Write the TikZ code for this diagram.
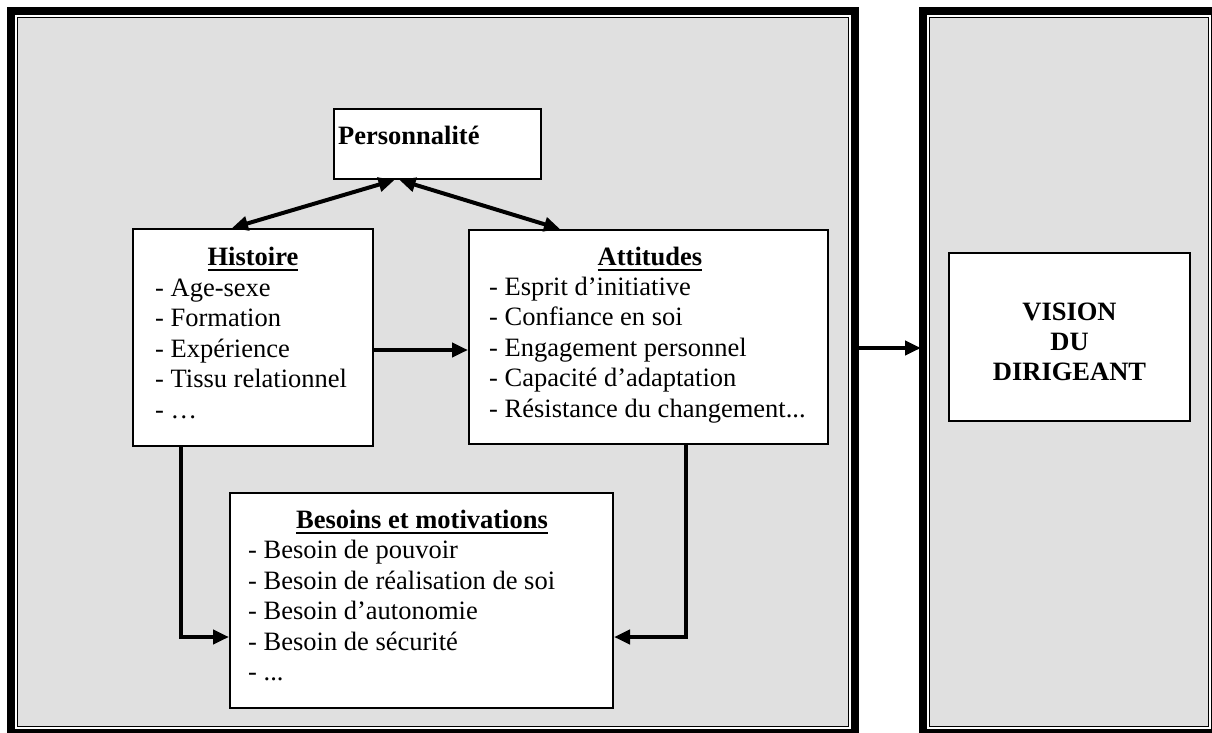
\documentclass[tikz,border=0pt]{standalone}
\usepackage{fontspec}
\setmainfont{Liberation Serif}
\usetikzlibrary{arrows.meta}
\definecolor{granit}{gray}{0.88}
\newcommand{\entete}[1]{\setbox0\hbox{\bfseries #1}\rlap{\rule[-6pt]{\wd0}{2pt}}\box0}

\begin{document}
\begin{tikzpicture}[x=1pt,y=-1pt]
\tikzset{
	cadre/.style={draw=black, fill=white, line width=8pt, inner sep=0pt, outer sep=0pt},
	filet/.style={draw=black, fill=granit, line width=1.5pt},
	bloc/.style={draw=black, fill=white, line width=2pt, inner sep=0pt},
	texte/.style={inner sep=0pt, anchor=base west, font=\fontsize{26.5}{30}\selectfont},
	titre/.style={inner sep=0pt, anchor=base, font=\fontsize{26.5}{30}\selectfont\bfseries},
	fleche/.style={line width=4pt, -{Triangle[length=16pt,width=14pt]}},
	doublefleche/.style={line width=4pt, {Triangle[length=16pt,width=14pt]}-{Triangle[length=16pt,width=14pt]}}
}
\useasboundingbox (0,0) rectangle (1212,733);

% cadres
\node[cadre, minimum width=844, minimum height=722] (gauche) at (433,372) {};
\draw[filet] ([shift={(6.5,6.5)}]gauche.north west) rectangle ([shift={(-6.5,-6.5)}]gauche.south east);
\node[cadre, minimum width=292, minimum height=722] (droite) at (1069,372) {};
\draw[filet] ([shift={(6.5,6.5)}]droite.north west) rectangle ([shift={(-6.5,-6.5)}]droite.south east);

% Personnalite
\node[bloc, minimum width=207, minimum height=70] (pers) at (437.5,144) {};
\node[titre, anchor=base west] (pers_t) at (338,144) {Personnalité};

% Histoire
\node[bloc, minimum width=240, minimum height=217] (hist) at (253,337.5) {};
\node[titre] (hist_t) at (253,265) {\entete{Histoire}};
\node[texte] (hist_1) at (155,296)   {- Age-sexe};
\node[texte] (hist_2) at (155,326.5) {- Formation};
\node[texte] (hist_3) at (155,357)   {- Expérience};
\node[texte] (hist_4) at (155,387.5) {- Tissu relationnel};
\node[texte] (hist_5) at (155,418)   {- …};

% Attitudes
\node[bloc, minimum width=359, minimum height=214] (att) at (648.5,337) {};
\node[titre] (att_t) at (650,265) {\entete{Attitudes}};
\node[texte] (att_1) at (489,295)   {- Esprit d’initiative};
\node[texte] (att_2) at (489,325.5) {- Confiance en soi};
\node[texte] (att_3) at (489,356)   {- Engagement personnel};
\node[texte] (att_4) at (489,386.5) {- Capacité d’adaptation};
\node[texte] (att_5) at (489,417)   {- Résistance du changement...};

% Besoins et motivations
\node[bloc, minimum width=383, minimum height=215] (bes) at (421.5,600.5) {};
\node[titre] (bes_t) at (422,528) {\entete{Besoins et motivations}};
\node[texte] (bes_1) at (248,558.5) {- Besoin de pouvoir};
\node[texte] (bes_2) at (248,589)   {- Besoin de réalisation de soi};
\node[texte] (bes_3) at (248,619.5) {- Besoin d’autonomie};
\node[texte] (bes_4) at (248,650)   {- Besoin de sécurité};
\node[texte] (bes_5) at (248,680.5) {- ...};

% Vision du dirigeant
\node[bloc, minimum width=241, minimum height=168] (vis) at (1069.5,337) {};
\node[titre, anchor=center, align=center] (vis_t) at (1069.5,341.5) {VISION\\DU\\DIRIGEANT};

% liaisons
\draw[doublefleche] ([xshift=-43pt]pers.south) -- ([xshift=-21pt]hist.north);
\draw[doublefleche] ([xshift=-38pt]pers.south) -- ([xshift=-88.5pt]att.north);
\draw[fleche] ([yshift=-12.5pt]hist.east) -- ([yshift=-12.5pt]hist.east -| att.west);
\draw[fleche] ([xshift=-72pt]hist.south) |- ([yshift=-36.5pt]bes.west);
\draw[fleche] ([xshift=37.5pt]att.south) |- ([yshift=-36.5pt]bes.east);
\draw[fleche] ([yshift=24pt]gauche.east) -- ([xshift=-2pt,yshift=24pt]gauche.east -| droite.west);

\end{tikzpicture}
\end{document}
